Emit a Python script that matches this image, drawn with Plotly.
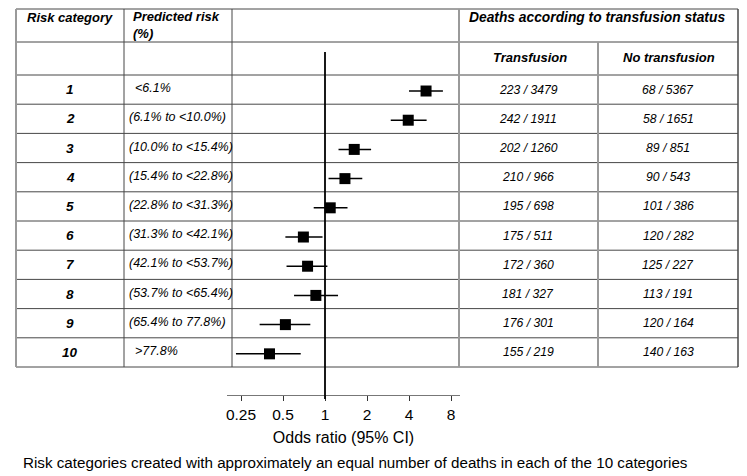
import plotly.graph_objects as go

# the page body has an 8px margin, so the figure is 8px smaller and every
# reference pixel position is shifted by 8px
OFF = 8
W, H = 747 - OFF, 476 - OFF

# ---------------- data ----------------
categories = [1, 2, 3, 4, 5, 6, 7, 8, 9, 10]
predicted_risk = ["<6.1%", "(6.1% to <10.0%)", "(10.0% to <15.4%)", "(15.4% to <22.8%)",
                  "(22.8% to <31.3%)", "(31.3% to <42.1%)", "(42.1% to <53.7%)",
                  "(53.7% to <65.4%)", "(65.4% to 77.8%)", ">77.8%"]
odds_ratio = [5.3, 3.95, 1.62, 1.39, 1.09, 0.70, 0.75, 0.86, 0.52, 0.40]
ci_low = [4.0, 2.96, 1.25, 1.06, 0.83, 0.52, 0.53, 0.60, 0.34, 0.23]
ci_high = [7.0, 5.35, 2.14, 1.85, 1.45, 0.96, 1.04, 1.24, 0.785, 0.67]
transfusion_deaths = ["223 / 3479", "242 / 1911", "202 / 1260", "210 / 966", "195 / 698",
                      "175 / 511", "172 / 360", "181 / 327", "176 / 301", "155 / 219"]
no_transfusion_deaths = ["68 / 5367", "58 / 1651", "89 / 851", "90 / 543", "101 / 386",
                         "120 / 282", "125 / 227", "113 / 191", "120 / 164", "140 / 163"]
tick_vals = [0.25, 0.5, 1, 2, 4, 8]
tick_text = ["0.25", "0.5", "1", "2", "4", "8"]
x_title = "Odds ratio (95% CI)"
caption = "Risk categories created with approximately an equal number of deaths in each of the 10 categories"
header_cat = "Risk category"
header_risk = "Predicted risk<br>(%)"
header_deaths = "Deaths according to transfusion status"
header_tr = "Transfusion"
header_notr = "No transfusion"

FONT = "Liberation Sans, Arial, Helvetica, sans-serif"


def px(x):
    return (x - OFF) / W


def py(y):
    return 1 - (y - OFF) / H


ROW0, ROWH = 75.0, 29.2
row_center = [ROW0 + ROWH * (i + 0.5) for i in range(len(categories))]

fig = go.Figure()
fig.add_trace(go.Scatter(
    x=odds_ratio, y=categories, mode="markers",
    marker=dict(symbol="square", size=11, color="black"),
    error_x=dict(type="data", symmetric=False,
                 array=[h - o for h, o in zip(ci_high, odds_ratio)],
                 arrayminus=[o - l for o, l in zip(odds_ratio, ci_low)],
                 width=0, thickness=1.5, color="black"),
    hoverinfo="skip", showlegend=False,
))

shapes = []
dark = "#474747"
gray = "#9a9a9a"
hlines = [9, 42] + [ROW0 + ROWH * i for i in range(len(categories) + 1)]
for y in hlines:
    shapes.append(dict(type="line", xref="paper", yref="paper", x0=px(16), x1=px(738),
                       y0=py(y), y1=py(y), line=dict(color=dark, width=1), layer="below"))
bottom = ROW0 + ROWH * len(categories)
for x, top, col, wd in [(16, 9, gray, 2), (124, 9, dark, 1), (232, 9, dark, 1),
                        (459, 9, gray, 2), (598, 42, gray, 2), (738, 9, dark, 1.5)]:
    shapes.append(dict(type="line", xref="paper", yref="paper", x0=px(x), x1=px(x),
                       y0=py(top), y1=py(bottom), line=dict(color=col, width=wd), layer="below"))
shapes.append(dict(type="line", xref="x", yref="paper", x0=1, x1=1, y0=py(52), y1=py(399),
                   line=dict(color="black", width=1.8), layer="above"))

ann = []


def txt(x, y, s, size, anchor="center", bold=False, italic=False):
    t = s
    if italic:
        t = "<i>" + t + "</i>"
    if bold:
        t = "<b>" + t + "</b>"
    ann.append(dict(x=px(x), y=py(y), xref="paper", yref="paper", text=t, showarrow=False,
                    xanchor=anchor, yanchor="middle", align="left",
                    font=dict(family=FONT, size=size, color="black")))


txt(70, 17, header_cat, 13, bold=True, italic=True)
ann.append(dict(x=px(131), y=py(25), xref="paper", yref="paper",
                text="<b><i>" + header_risk + "</i></b>", showarrow=False,
                xanchor="left", yanchor="middle", align="left",
                font=dict(family=FONT, size=13, color="black")))
txt(597, 17, header_deaths, 13.8, bold=True, italic=True)
txt(530, 58, header_tr, 13, bold=True, italic=True)
txt(669, 58, header_notr, 13, bold=True, italic=True)

for i, c in enumerate(categories):
    yc = row_center[i]
    txt(70, yc, str(c), 13.5, bold=True, italic=True)
    r = predicted_risk[i]
    xr = 133 if not r.startswith("(") else 127
    txt(xr, yc - 1.5, r, 12.5, anchor="left", italic=True)
    txt(528, yc, transfusion_deaths[i], 12.2, italic=True)
    txt(668, yc, no_transfusion_deaths[i], 12.2, italic=True)

txt(21, 462, caption, 15.2, anchor="left")

fig.update_layout(
    width=W, height=H, autosize=False,
    margin=dict(l=0, r=0, t=0, b=0),
    paper_bgcolor="white", plot_bgcolor="white",
    shapes=shapes, annotations=ann,
    font=dict(family=FONT, color="black"),
    xaxis=dict(type="log", domain=[px(227), px(460)], range=[-0.7024, 0.9676],
               tickvals=tick_vals, ticktext=tick_text, showgrid=False, zeroline=False,
               showline=True, linecolor="#777777", linewidth=1,
               ticks="outside", ticklen=5, tickcolor="#333333", tickwidth=1,
               tickfont=dict(family=FONT, size=15.5, color="black"),
               title=dict(text=x_title, font=dict(family=FONT, size=16, color="black"), standoff=10)),
    yaxis=dict(domain=[py(395), py(52)], range=[11.41, -0.336], visible=False,
               showgrid=False, zeroline=False),
)

fig.write_html("out.html")
